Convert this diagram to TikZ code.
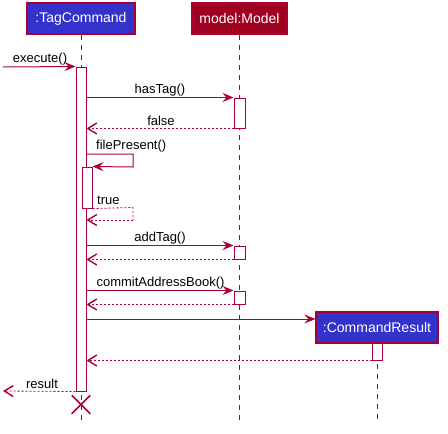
\documentclass[tikz,border=0pt]{standalone}
\usepackage{fontspec}
\setmainfont{Liberation Sans}
\definecolor{umlred}{RGB}{168,0,54}
\definecolor{umlblue}{RGB}{51,51,204}
\definecolor{modelred}{RGB}{160,0,32}
\usetikzlibrary{arrows.meta,positioning,calc,shapes.misc}

\begin{document}
\begin{tikzpicture}[x=1pt,y=-1pt,
    actor/.style={draw=umlred, line width=1.2pt, text=white, font=\fontsize{14}{16}\selectfont, minimum height=31pt, inner sep=0pt},
    actbar/.style={draw=umlred, line width=1pt, fill=white, minimum width=10pt, inner sep=0pt},
    life/.style={umlred, line width=0.8pt, dash pattern=on 5pt off 5pt},
    call/.style={umlred, line width=1pt, -{Stealth[length=11pt,width=9pt,inset=4pt]}},
    reply/.style={umlred, line width=0.8pt, dash pattern=on 2pt off 2pt, -{Straight Barb[length=9pt,width=11pt,line width=1.4pt]}},
    msg/.style={font=\fontsize{13}{15}\selectfont, inner sep=2pt}]
    \useasboundingbox (0,0) rectangle (448,434);

    % Participants
    \node[actor, fill=umlblue, minimum width=108pt] (tag) at (81,18.5) {:TagCommand};
    \node[actor, fill=modelred, minimum width=95pt] (model) at (239.5,18.5) {model:Model};

    % Lifelines
    \draw[life] (tag.south) -- (tag.south |- 0,421);
    \draw[life] (model.south) -- (model.south |- 0,421);

    % CommandResult
    \node[actor, fill=umlblue, minimum width=122pt] (res) at (377,327.5) {:CommandResult};
    \draw[life] (res.south) -- (res.south |- 0,421);

    % Activations
    \node[actbar, minimum height=324pt] (tagAct) at (81,229) {};
    \node[actbar, minimum height=41pt] (fpAct) at (87,187.5) {};
    \node[actbar, minimum width=11pt, minimum height=30pt] (hasAct) at (239.5,113) {};
    \node[actbar, minimum width=11pt, minimum height=13pt] (addAct) at (239.5,252.5) {};
    \node[actbar, minimum width=11pt, minimum height=13pt] (commitAct) at (239.5,297.5) {};
    \node[actbar, minimum height=17pt] (resAct) at (377,351.5) {};

    % execute()
    \coordinate (in) at (3,67);
    \draw[call] (in) -- (tagAct.north west);
    \node[msg, above] at (40,67) {execute()};

    % hasTag()
    \draw[call] (tagAct.east |- hasAct.north west) -- (hasAct.north west);
    \node[msg, above] at (160,98) {hasTag()};
    \draw[reply] (hasAct.south west) -- (tagAct.east |- hasAct.south west);
    \node[msg, above] at (161,128) {false};

    % filePresent()
    \coordinate (fpCall) at (86,154);
    \draw[call] (fpCall) -- ++(47,0) -- (133,167) -- (fpAct.north east);
    \node[msg, above right] at (94,154) {filePresent()};
    \draw[umlred, line width=0.8pt, dash pattern=on 2pt off 2pt] (fpAct.south east) -- (133,207.5) -- (133,220);
    \draw[reply] (133,220) -- (tagAct.east |- 0,220);
    \node[msg, above right] at (95,207) {true};

    % addTag()
    \draw[call] (tagAct.east |- addAct.north west) -- (addAct.north west);
    \node[msg, above] at (160,246) {addTag()};
    \draw[reply] (addAct.south west) -- (tagAct.east |- addAct.south west);

    % commitAddressBook()
    \draw[call] (tagAct.east |- commitAct.north west) -- (commitAct.north west);
    \node[msg, above] at (160.5,291) {commitAddressBook()};
    \draw[reply] (commitAct.south west) -- (tagAct.east |- commitAct.south west);

    % create CommandResult
    \draw[call] (tagAct.east |- 0,319) -- (res.west |- 0,319);
    \draw[reply] (resAct.south west) -- (tagAct.east |- resAct.south west);

    % result
    \coordinate (out) at (3,391);
    \draw[reply] (tagAct.south west) -- (out);
    \node[msg, above] at (42,391) {result};

    % Destroy
    \node[cross out, draw=umlred, line width=1.5pt, minimum size=17pt, inner sep=0pt] (kill) at (81,404.5) {};
\end{tikzpicture}
\end{document}
